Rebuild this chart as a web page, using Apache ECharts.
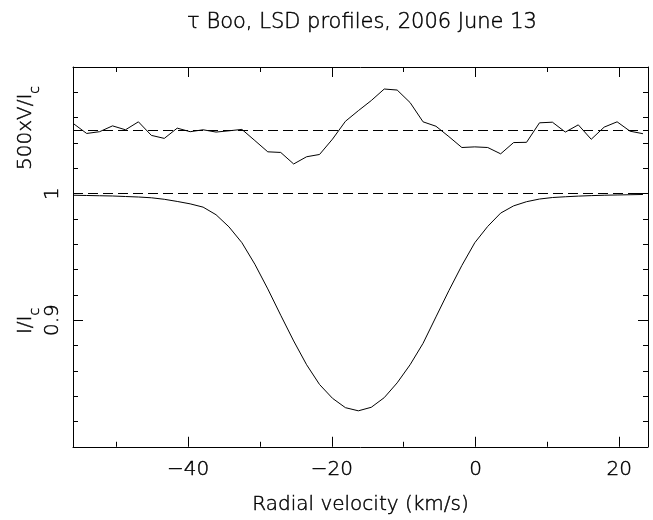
<!DOCTYPE html>
<html>
<head>
<meta charset="utf-8">
<script src="https://cdn.jsdelivr.net/npm/echarts@6/dist/echarts.min.js"></script>
<style>
  html, body { margin: 0; padding: 0; background: #fff; }
  #chart { width: 653px; height: 520px; }
</style>
</head>
<body>
<div id="chart"></div>
<script>
// ============================================================
// Data
// ============================================================

var TITLE = '\u03c4 Boo, LSD profiles, 2006 June 13';
var FONT = 'DejaVu Sans';
var WEIGHT = 300;
var TEXT_EDGE = { textBorderColor: '#000', textBorderWidth: 0.45 };

// radial velocity grid, km/s
var velocity = [
  -55.9, -54.1, -52.3, -50.5, -48.7, -46.9, -45.1, -43.3, -41.5, -39.7,
  -37.9, -36.1, -34.3, -32.5, -30.7, -28.9, -27.1, -25.3, -23.5, -21.7,
  -19.9, -18.1, -16.3, -14.5, -12.7, -10.9, -9.1, -7.3, -5.5, -3.7,
  -1.9, -0.1, 1.7, 3.5, 5.3, 7.1, 8.9, 10.7, 12.5, 14.3,
  16.1, 17.9, 19.7, 21.5, 23.3
];

// Stokes I profile, I/Ic
var stokesI = [
  0.9987, 0.9985, 0.9983, 0.9981, 0.9977, 0.9973, 0.9967, 0.9955, 0.9938, 0.9919,
  0.9893, 0.9833, 0.9737, 0.9612, 0.9442, 0.9247, 0.9039, 0.8836, 0.8648, 0.8492,
  0.8383, 0.8309, 0.8284, 0.8312, 0.8388, 0.8505, 0.8648, 0.8817, 0.9026, 0.9234,
  0.9432, 0.9612, 0.9741, 0.9846, 0.9903, 0.9936, 0.9957, 0.9969, 0.9975, 0.9980,
  0.9984, 0.9987, 0.9989, 0.9991, 0.9993
];

// Stokes V profile, 500 x V/Ic (drawn shifted up by V_OFFSET)
var stokesV500 = [
  0.0051, -0.0025, -0.0011, 0.0035, 0.0004, 0.0067, -0.0040, -0.0064, 0.0017, -0.0011,
  0.0004, -0.0014, -0.0004, 0.0007, -0.0081, -0.0170, -0.0175, -0.0266, -0.0209, -0.0191,
  -0.0070, 0.0071, 0.0155, 0.0235, 0.0326, 0.0318, 0.0219, 0.0067, 0.0032, -0.0050,
  -0.0136, -0.0131, -0.0136, -0.0186, -0.0097, -0.0095, 0.0059, 0.0064, -0.0014, 0.0043,
  -0.0071, 0.0025, 0.0067, -0.0007, -0.0027
];

var V_OFFSET = 1.05;
var I_CONTINUUM = 1;

var xMajorTicks = [-40, -20, 0, 20];
var xMinorTicks = [-50, -30, -10, 10];
var yLabelValues = [0.9, 1];

// ============================================================
// Helpers
// ============================================================

function pairs(xs, ys, offset) {
  return xs.map(function(x, i) { return [x, ys[i] + (offset || 0)]; });
}

function minus(v) {
  return String(v).replace('-', '\u2212');
}

function textStyle(size) {
  return Object.assign({ fontFamily: FONT, fontWeight: WEIGHT, fontSize: size, color: '#000' }, TEXT_EDGE);
}

// zrender-level style for the rotated y titles (graphic elements)
function rawText(size) {
  return { fontFamily: FONT, fontWeight: WEIGHT, fontSize: size, fill: '#000',
    stroke: '#000', lineWidth: 0.45 };
}

function xAxisDef(position, ticks, len, showLine, showLabel) {
  return {
    type: 'value', min: -56, max: 24, position: position,
    axisLine: { show: showLine, onZero: false, lineStyle: { color: '#000', width: 1 } },
    axisTick: { show: true, inside: true, length: len, customValues: ticks,
      lineStyle: { color: '#000', width: 1 } },
    axisLabel: Object.assign(textStyle(20), {
      show: showLabel, customValues: xMajorTicks, margin: 13, formatter: minus
    }),
    splitLine: { show: false }
  };
}

function yAxisDef(position, showLabel) {
  return {
    type: 'value', min: 0.8, max: 1.1, interval: 0.1, position: position,
    axisLine: { show: true, onZero: false, lineStyle: { color: '#000', width: 1 } },
    axisTick: { show: true, inside: true, length: 10, lineStyle: { color: '#000', width: 1 } },
    minorTick: { show: true, splitNumber: 5, length: 5, lineStyle: { color: '#000', width: 1 } },
    axisLabel: Object.assign(textStyle(20), {
      show: showLabel, customValues: yLabelValues, rotate: 90, margin: 10,
      formatter: function(v) { return String(Math.round(v * 10) / 10); }
    }),
    splitLine: { show: false },
    minorSplitLine: { show: false }
  };
}

var subRich = {
  a: Object.assign(rawText(20), { lineHeight: 22, verticalAlign: 'middle' }),
  s: Object.assign(rawText(14), { lineHeight: 14, verticalAlign: 'top', padding: [13, 0, 0, 0] })
};

// ============================================================
// Chart
// ============================================================

var chart = echarts.init(document.getElementById('chart'), null, { renderer: 'canvas' });

chart.setOption({
  animation: false,
  backgroundColor: '#fff',
  title: {
    text: TITLE, left: 362, top: 12, textAlign: 'center', padding: 0,
    textStyle: textStyle(21)
  },
  grid: { left: 73, right: 5, top: 67, bottom: 69, containLabel: false },
  xAxis: [
    Object.assign(xAxisDef('bottom', xMajorTicks, 10, true, true), {
      name: 'Radial velocity (km/s)', nameLocation: 'middle', nameGap: 48,
      nameTextStyle: textStyle(20)
    }),
    xAxisDef('bottom', xMinorTicks, 5, false, false),
    xAxisDef('top', xMajorTicks, 10, true, false),
    xAxisDef('top', xMinorTicks, 5, false, false)
  ],
  yAxis: [yAxisDef('left', true), yAxisDef('right', false)],
  graphic: [
    {
      type: 'text', x: 26, y: 128, rotation: Math.PI / 2,
      style: { text: '{a|500xV/I}{s|c}', rich: subRich, align: 'center', verticalAlign: 'middle' }
    },
    {
      type: 'text', x: 26, y: 321, rotation: Math.PI / 2,
      style: { text: '{a|I/I}{s|c}', rich: subRich, align: 'center', verticalAlign: 'middle' }
    }
  ],
  series: [
    {
      name: 'I', type: 'line', xAxisIndex: 0, yAxisIndex: 0,
      data: pairs(velocity, stokesI), showSymbol: false, symbol: 'none',
      lineStyle: { color: '#000', width: 1 },
      markLine: {
        silent: true, symbol: 'none', label: { show: false },
        lineStyle: { color: '#000', width: 1, type: [10, 5] },
        data: [{ yAxis: I_CONTINUUM }]
      }
    },
    {
      name: 'V', type: 'line', xAxisIndex: 0, yAxisIndex: 0,
      data: pairs(velocity, stokesV500, V_OFFSET), showSymbol: false, symbol: 'none',
      lineStyle: { color: '#000', width: 1 },
      markLine: {
        silent: true, symbol: 'none', label: { show: false },
        lineStyle: { color: '#000', width: 1, type: [10, 5] },
        data: [{ yAxis: V_OFFSET }]
      }
    }
  ]
});
</script>
</body>
</html>
